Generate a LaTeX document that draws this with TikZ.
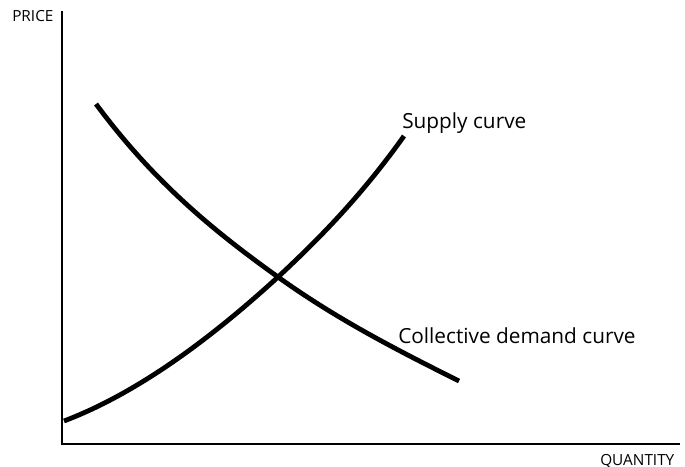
\documentclass[tikz,border=0pt]{standalone}
\usepackage{fontspec}
\setmainfont{Open Sans}
\usetikzlibrary{positioning}

\tikzset{
  axis/.style={line width=2.2pt, line cap=rect},
  curve/.style={line width=3.6pt},
  axislabel/.style={font=\fontsize{11.5}{13}\selectfont, inner sep=0pt, anchor=base west},
  curvelabel/.style={font=\fontsize{15.6}{18}\selectfont, inner sep=0pt, anchor=base west}
}

\begin{document}
\begin{tikzpicture}[x=0.75pt, y=-0.75pt]
  \useasboundingbox (0,0) rectangle (685,467);

  %% Axes
  \coordinate (origin) at (62,444);
  \coordinate (ytop) at (62,12);
  \coordinate (xend) at (679,444);
  \draw[axis] (ytop) -- (origin) -- (xend);

  %% Axis labels
  \node[axislabel] (price) at (12,22) {PRICE};
  \node[axislabel] (quantity) at (600,465) {QUANTITY};

  %% Equilibrium point (where both curves cross)
  \coordinate (eq) at (278,277);

  %% Collective demand curve
  \draw[curve] (96,104) .. controls (156,185) and (218,234) .. (eq)
    .. controls (338,320) and (399,351) .. (459,381);

  %% Supply curve
  \draw[curve] (64,421) .. controls (135,394) and (207,342) .. (eq)
    .. controls (320,238) and (362,195) .. (404,136);

  %% Curve labels
  \node[curvelabel] (supply) at (402,128) {Supply curve};
  \node[curvelabel] (demand) at (398,343) {Collective demand curve};

\end{tikzpicture}
\end{document}
